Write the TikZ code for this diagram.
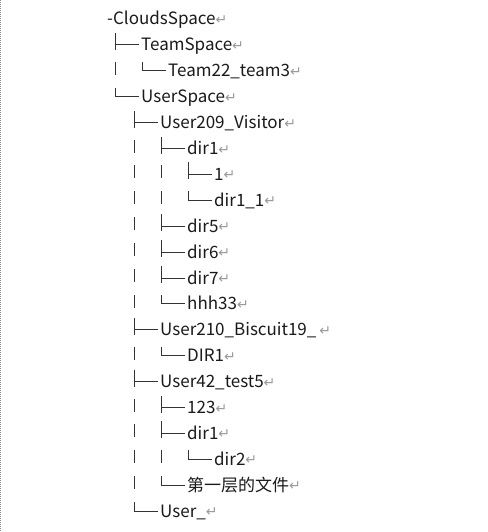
\documentclass[tikz,border=0pt]{standalone}
\usepackage{fontspec}
\newfontfamily\cjk{Noto Sans CJK SC}
\newfontfamily\symf{DejaVu Sans}
\definecolor{txt}{HTML}{1A1A1A}
\definecolor{retc}{HTML}{9A9A9A}
\definecolor{lin}{HTML}{333333}
\definecolor{edge}{HTML}{8A8A8A}
\newcommand\rt{{\symf\fontsize{14}{14}\selectfont\textcolor{retc}{\raisebox{0.5pt}{↵}}}}
\newcommand\tee[1]{\draw[tree] (#1.west) ++(-26,-12) -- ++(0,17) (#1.west) ++(-26,0) -- ++(24,0);}
\newcommand\lst[1]{\draw[tree] (#1.west) ++(-26,-9) -- ++(0,9) -- ++(24,0);}
\newcommand\cont[2]{\draw[tree] (#1.west -| #2,0) ++(0,-9) -- ++(0,13);}
\tikzset{
  lbl/.style={anchor=west, inner sep=0pt, text height=12pt, text depth=0pt,
    font=\cjk\fontsize{17}{17}\selectfont, text=txt},
  tree/.style={draw=lin, line width=1pt}
}
\begin{document}
\begin{tikzpicture}[x=1pt,y=-1pt]
\useasboundingbox (0,0) rectangle (487,532);
\fill[white] (0,0) rectangle (487,532);
\draw[edge, line width=1.4pt, dash pattern=on 1pt off 1pt] (0.7,0) -- (0.7,532);
% nodes
\node[lbl] (r0)  at (107,19)    {-CloudsSpace\rt};
\node[lbl] (r1)  at (141,44.9)  {TeamSpace\rt};
\node[lbl] (r2)  at (168,70.8)  {Team22\_team3\rt};
\node[lbl] (r3)  at (141,96.7)  {UserSpace\rt};
\node[lbl] (r4)  at (160,122.6) {User209\_Visitor\rt};
\node[lbl] (r5)  at (187,148.5) {dir1\rt};
\node[lbl] (r6)  at (214,174.4) {1\rt};
\node[lbl] (r7)  at (214,200.3) {dir1\_1\rt};
\node[lbl] (r8)  at (187,226.2) {dir5\rt};
\node[lbl] (r9)  at (187,252.1) {dir6\rt};
\node[lbl] (r10) at (187,278.0) {dir7\rt};
\node[lbl] (r11) at (187,303.9) {hhh33\rt};
\node[lbl] (r12) at (160,329.8) {User210\_Biscuit19\_\,\rt};
\node[lbl] (r13) at (187,355.7) {DIR1\rt};
\node[lbl] (r14) at (160,381.6) {User42\_test5\rt};
\node[lbl] (r15) at (187,407.5) {123\rt};
\node[lbl] (r16) at (187,433.4) {dir1\rt};
\node[lbl] (r17) at (214,459.3) {dir2\rt};
\node[lbl] (r18) at (187,485.2) {第一层的文件\rt};
\node[lbl] (r19) at (160,511.1) {User\_\rt};
% branches
\tee{r1}
\lst{r2} \cont{r2}{115}
\lst{r3}
\tee{r4}
\tee{r5} \cont{r5}{134}
\tee{r6} \cont{r6}{134} \cont{r6}{161}
\lst{r7} \cont{r7}{134} \cont{r7}{161}
\tee{r8} \cont{r8}{134}
\tee{r9} \cont{r9}{134}
\tee{r10} \cont{r10}{134}
\lst{r11} \cont{r11}{134}
\tee{r12}
\lst{r13} \cont{r13}{134}
\tee{r14}
\tee{r15} \cont{r15}{134}
\tee{r16} \cont{r16}{134}
\lst{r17} \cont{r17}{134} \cont{r17}{161}
\lst{r18} \cont{r18}{134}
\lst{r19}
\end{tikzpicture}
\end{document}
